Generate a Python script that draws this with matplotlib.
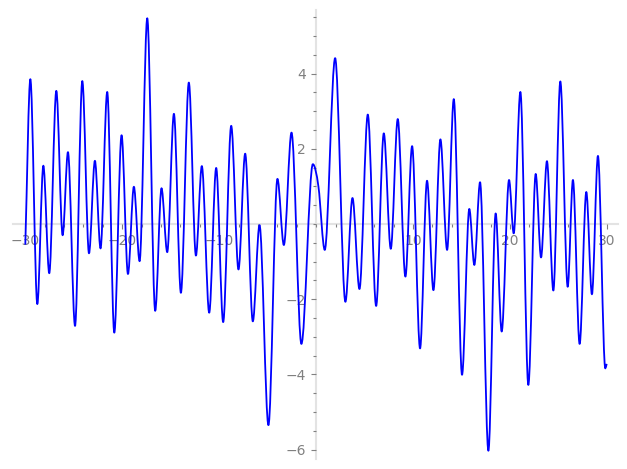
import matplotlib
matplotlib.use("Agg")
import matplotlib.pyplot as plt
from matplotlib.path import Path
from matplotlib.patches import PathPatch
from matplotlib.ticker import MultipleLocator, FixedLocator

# Curve key points (start, extrema, shoulder, end)
curve_x = [-30.0, -29.48, -28.76, -28.14, -27.53, -26.8, -26.15, -25.6, -24.87, -24.12,
           -23.43, -22.82, -22.24, -21.55, -20.82, -20.07, -19.41, -18.8, -18.21, -17.42,
           -16.6, -15.95, -15.36, -14.67, -13.95, -13.13, -12.4, -11.79, -11.03, -10.31,
           -9.59, -8.76, -8.01, -7.32, -6.53, -5.84, -4.92, -3.99, -3.33, -2.54,
           -1.52, -0.34, 0.24, 0.89, 1.96, 3.02, 3.75, 4.47, 5.33, 6.19,
           6.98, 7.7, 8.42, 9.21, 9.9, 10.72, 11.44, 12.1, 12.82, 13.51,
           14.2, 15.05, 15.8, 16.32, 16.91, 17.77, 18.52, 19.14, 19.9, 20.38,
           21.07, 21.89, 22.65, 23.2, 23.81, 24.47, 25.19, 25.95, 26.49, 27.18,
           27.87, 28.45, 29.07, 29.83, 29.97]
curve_y = [-0.55, 3.85, -2.13, 1.55, -1.31, 3.54, -0.30, 1.91, -2.71, 3.80,
           -0.78, 1.68, -0.65, 3.51, -2.89, 2.36, -1.33, 0.99, -0.99, 5.47,
           -2.31, 0.95, -0.75, 2.93, -1.83, 3.76, -0.84, 1.54, -2.36, 1.49,
           -2.61, 2.61, -1.21, 1.87, -2.59, -0.03, -5.35, 1.20, -0.56, 2.43,
           -3.19, 1.59, 0.99, -0.69, 4.41, -2.07, 0.69, -1.73, 2.91, -2.18,
           2.41, -0.66, 2.79, -1.40, 2.07, -3.31, 1.15, -1.76, 2.25, -0.69,
           3.32, -4.01, 0.40, -1.09, 1.11, -6.03, 0.28, -2.86, 1.17, -0.25,
           3.51, -4.28, 1.33, -0.89, 1.67, -1.77, 3.79, -1.67, 1.17, -3.19,
           0.85, -1.87, 1.81, -3.84, -3.72]

x_major = [-30, -20, -10, 10, 20, 30]
y_major = [-6, -4, -2, 2, 4]

W, H = 627, 469
fig = plt.figure(figsize=(W / 100, H / 100), dpi=100)
left_px, right_px, top_px, bot_px = 12.7, 618.3, 10.0, 459.0
ax = fig.add_axes([left_px / W, 1 - bot_px / H, (right_px - left_px) / W, (bot_px - top_px) / H])
ax.set_xlim(-31.3, 31.17)
ax.set_ylim(-6.25, 5.69)

# slopes: zero at local extrema, secant elsewhere
n = len(curve_x)
slopes = []
for i in range(n):
    if i == 0:
        m = (curve_y[1] - curve_y[0]) / (curve_x[1] - curve_x[0])
    elif i == n - 1:
        m = (curve_y[-1] - curve_y[-2]) / (curve_x[-1] - curve_x[-2])
    else:
        a, b, c = curve_y[i - 1], curve_y[i], curve_y[i + 1]
        if (b > a and b > c) or (b < a and b < c):
            m = 0.0
        else:
            m = (c - a) / (curve_x[i + 1] - curve_x[i - 1])
    slopes.append(m)

verts = [(curve_x[0], curve_y[0])]
codes = [Path.MOVETO]
for i in range(n - 1):
    dx = curve_x[i + 1] - curve_x[i]
    verts += [(curve_x[i] + dx / 3, curve_y[i] + slopes[i] * dx / 3),
              (curve_x[i + 1] - dx / 3, curve_y[i + 1] - slopes[i + 1] * dx / 3),
              (curve_x[i + 1], curve_y[i + 1])]
    codes += [Path.CURVE4] * 3
ax.add_patch(PathPatch(Path(verts, codes), fill=False, edgecolor='#0000ff', lw=1.3,
                       capstyle='butt', joinstyle='round', zorder=3))

# Sage-like axes through the origin
for s in ['top', 'right']:
    ax.spines[s].set_visible(False)
ax.spines['left'].set_position(('data', 0))
ax.spines['bottom'].set_position(('data', 0))
for s in ['left', 'bottom']:
    ax.spines[s].set_color('#e3e3e3')
    ax.spines[s].set_linewidth(1.5)
    ax.spines[s].set_zorder(1)
ax.patch.set_visible(False)

ax.xaxis.set_major_locator(FixedLocator(x_major))
ax.xaxis.set_minor_locator(MultipleLocator(2))
ax.yaxis.set_major_locator(FixedLocator(y_major))
ax.yaxis.set_minor_locator(MultipleLocator(0.5))
ax.tick_params(which='both', colors='#808080', labelcolor='#808080', direction='out', width=0.8)
ax.tick_params(which='major', length=3.5, labelsize=10, pad=4)
ax.tick_params(which='minor', length=2)

fig.savefig('out.png', dpi=100)
